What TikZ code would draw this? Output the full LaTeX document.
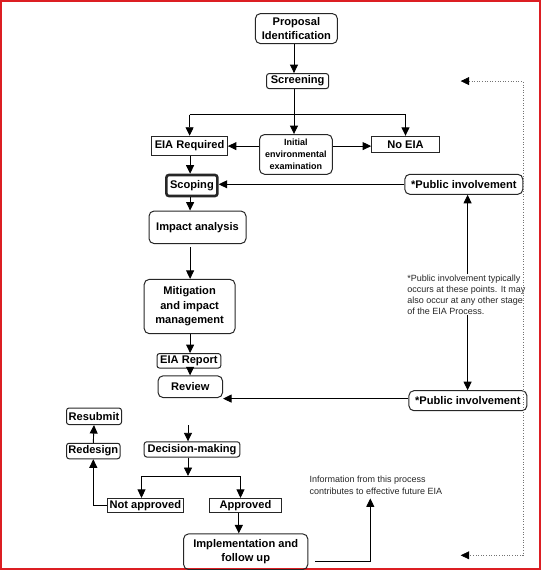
\documentclass[tikz,border=0pt]{standalone}
\usepackage{fontspec}
\setmainfont{Liberation Sans}
\usetikzlibrary{arrows.meta}
\begin{document}
\begin{tikzpicture}[x=1pt,y=-1pt,
  base/.style={draw=black!85, line width=1pt, inner sep=0pt, align=center, text=black,
    font=\fontsize{11.1}{14.5}\selectfont\bfseries},
  rbox/.style={base, rounded corners=5pt},
  rsbox/.style={base, rounded corners=2.5pt},
  sbox/.style={base},
  arr/.style={draw=black, line width=0.9pt, -{Triangle[length=8.5pt,width=8pt]}},
  ln/.style={draw=black, line width=0.9pt},
  note/.style={inner sep=0pt, align=left, text=black!85, font=\fontsize{9}{11.2}\selectfont},
]
\useasboundingbox (0,0) rectangle (541,570);
\draw[draw={rgb,255:red,220;green,30;blue,35}, line width=1.6pt] (0.8,0.8) rectangle (540.2,569.2);

% nodes
\node[rbox, minimum width=82pt, minimum height=30pt] (prop) at (296.4,28.6) {Proposal\\Identification};
\node[rsbox, minimum width=62pt, minimum height=15pt] (scr) at (297.6,81.1) {Screening};
\node[sbox, minimum width=75.6pt, minimum height=19.7pt] (eiar) at (189.6,146.1) {EIA Required};
\node[rbox, minimum width=72.8pt, minimum height=39.7pt, font=\fontsize{9}{12}\selectfont\bfseries] (iee) at (295.9,154.4) {Initial\\environmental\\examination};
\node[sbox, minimum width=67.7pt, minimum height=16.6pt] (noeia) at (405.5,144.6) {No EIA};
\node[rsbox, line width=2.6pt, minimum width=51pt, minimum height=21pt] (scop) at (191.9,185.5) {Scoping};
\node[rbox, minimum width=118pt, minimum height=20pt] (pub1) at (463.8,184.3) {*Public involvement};
\node[rbox, minimum width=97pt, minimum height=32.5pt] (imp) at (197.5,227.3) {Impact analysis};
\node[rbox, minimum width=90.8pt, minimum height=54.2pt] (mit) at (189.6,306.5) {Mitigation\\and impact\\management};
\node[rsbox, minimum width=63.8pt, minimum height=14.5pt] (rep) at (188.9,360.8) {EIA Report};
\node[rbox, minimum width=64.5pt, minimum height=21.7pt] (rev) at (190.3,386.7) {Review};
\node[rbox, minimum width=118pt, minimum height=20pt] (pub2) at (467.9,400.7) {*Public involvement};
\node[note, anchor=west] (pnote) at (407.2,294.6) {*Public involvement typically\\occurs at these points. It may\\also occur at any other stage\\of the EIA Process.};
\node[rsbox, minimum width=55pt, minimum height=16.5pt] (resub) at (94,416.3) {Resubmit};
\node[rsbox, minimum width=53.5pt, minimum height=15.5pt] (redes) at (93.3,451) {Redesign};
\node[rsbox, minimum width=95.6pt, minimum height=15.2pt] (dec) at (192,449.4) {Decision-making};
\node[sbox, minimum width=76pt, minimum height=13.8pt] (notap) at (145.3,505.3) {Not approved};
\node[sbox, minimum width=71.7pt, minimum height=13.8pt] (appr) at (245.4,505.3) {Approved};
\node[rbox, minimum width=124.2pt, minimum height=35.6pt] (impl) at (245.7,551.7) {Implementation and\\follow up};
\node[note, anchor=west] (inote) at (309.5,485.2) {Information from this process\\contributes to effective future EIA};

% coordinates
\coordinate (br) at (294,114.6);
\coordinate (vx) at (467.6,0);
\coordinate (dtop) at (188,425.2);
\coordinate (br2) at (188,476);
\coordinate (na) at (141.5,476);
\coordinate (ap) at (240.5,476);
\coordinate (is) at (315,561.5);
\coordinate (ic) at (370.3,561.5);
\coordinate (ie) at (370.3,498.4);
\coordinate (d1) at (460.7,81.1);
\coordinate (d2) at (522.8,81.1);
\coordinate (d3) at (522.8,555.3);
\coordinate (d4) at (460.7,555.3);

% connectors
\draw[arr] (prop.south -| br) -- (scr.north -| br);
\draw[ln] (scr.south -| br) -- (br);
\draw[ln] (eiar.north |- br) -- (noeia.north |- br);
\draw[arr] (eiar.north |- br) -- (eiar.north);
\draw[arr] (br) -- (br |- iee.north);
\draw[arr] (noeia.north |- br) -- (noeia.north);
\draw[arr] (iee.west |- eiar) -- (eiar.east);
\draw[arr] (iee.east |- eiar) -- (noeia.west |- eiar);
\draw[arr] (eiar.south -| 190.1,0) -- (scop.north -| 190.1,0);
\draw[arr] (pub1.west) -- (pub1.west -| scop.east);
\draw[arr] (scop.south -| 190.1,0) -- (imp.north -| 190.1,0);
\draw[arr] ([yshift=-3pt]imp.south -| 190.1,0) -- (mit.north -| 190.1,0);
\draw[arr] (mit.south -| 190.1,0) -- (rep.north -| 190.1,0);
\draw[arr] (rep.south -| 190.1,0) -- (rev.north -| 190.1,0);
\draw[arr] (pnote.north -| vx) -- (pub1.south -| vx);
\draw[arr] (pnote.south -| vx) -- (pub2.north -| vx);
\draw[arr] (pub2.west |- 0,398.6) -- (rev.east |- 0,398.6);
\draw[arr] (dtop) -- (dtop |- dec.north);
\draw[arr] (dec.south -| br2) -- (br2);
\draw[ln] (na) -- (ap);
\draw[arr] (na) -- (na |- notap.north);
\draw[arr] (ap) -- (ap |- appr.north);
\draw[arr] (notap.west) -- (notap.west -| redes) -- (redes.south);
\draw[arr] (redes.north) -- (resub.south);
\draw[arr] (appr.south -| 238.8,0) -- (impl.north -| 238.8,0);
\draw[arr] (is) -- (ic) -- (ie);
\draw[draw=black!55, line width=0.6pt, dotted, {Triangle[length=8.5pt,width=8pt,color=black]}-{Triangle[length=8.5pt,width=8pt,color=black]}] (d1) -- (d2) -- (d3) -- (d4);
\end{tikzpicture}
\end{document}
